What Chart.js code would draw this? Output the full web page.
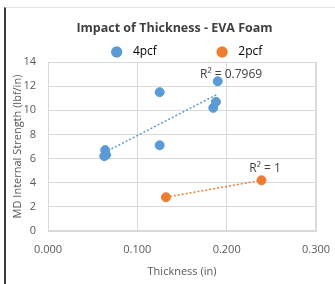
<!DOCTYPE html>
<html>
<head>
<meta charset="utf-8">
<script src="https://cdn.jsdelivr.net/npm/chart.js@4"></script>
<style>
  body { margin: 0; background: #fff; }
  .frame { position: absolute; left: 4px; top: 7px; width: 330px; height: 277px;
           border-left: 2px solid #3a3a3a; border-top: 1px solid #e2e2e2; border-right: 1px solid #eee; }
  #wrap { position: absolute; left: 0; top: 0; width: 335px; height: 284px; }
</style>
</head>
<body>
<div class="frame"></div>
<div id="wrap"><canvas id="grafico" width="335" height="284"></canvas></div>
<script>
// dati
const serie = ['4pcf', '2pcf'];
const colori = ['#5b9bd5', '#ed7d31'];
const spessore4 = [0.063, 0.064, 0.065, 0.125, 0.125, 0.185, 0.188, 0.190];
const forza4 = [6.2, 6.7, 6.3, 11.5, 7.1, 10.2, 10.7, 12.4];
const spessore2 = [0.132, 0.239];
const forza2 = [2.8, 4.2];
const r2Testi = ['R² = 0.7969', 'R² = 1'];
const xTicks = [0, 0.1, 0.2, 0.3];
const yTicks = [0, 2, 4, 6, 8, 10, 12, 14];

// retta di regressione (minimi quadrati)
function trend(xs, ys) {
  const n = xs.length;
  const mx = xs.reduce((a, b) => a + b, 0) / n;
  const my = ys.reduce((a, b) => a + b, 0) / n;
  let sxy = 0, sxx = 0;
  for (let i = 0; i < n; i++) {
    sxy += (xs[i] - mx) * (ys[i] - my);
    sxx += (xs[i] - mx) * (xs[i] - mx);
  }
  const m = sxy / sxx, q = my - m * mx;
  const x0 = Math.min(...xs), x1 = Math.max(...xs);
  return [{ x: x0, y: m * x0 + q }, { x: x1, y: m * x1 + q }];
}

const punti = (xs, ys) => xs.map((x, i) => ({ x: x, y: ys[i] }));
const font = '"Open Sans", sans-serif';

// etichette R² vicino alla fine di ogni linea
const etichetteR2 = {
  id: 'etichetteR2',
  afterDatasetsDraw(chart) {
    const ctx = chart.ctx, xs = chart.scales.x, ys = chart.scales.y;
    ctx.save();
    ctx.font = '12px ' + font;
    ctx.fillStyle = '#404040';
    ctx.textAlign = 'center';
    ctx.textBaseline = 'middle';
    ctx.fillText(r2Testi[0], xs.getPixelForValue(0.205), ys.getPixelForValue(12.95));
    ctx.fillText(r2Testi[1], xs.getPixelForValue(0.243), ys.getPixelForValue(5.2));
    ctx.restore();
  }
};

// titolo e legenda spostati come nell'originale
const sposta = {
  id: 'sposta',
  afterLayout(chart) {
    chart.titleBlock.left += 11;
    chart.titleBlock.right += 11;
    chart.legend.left += 24;
    chart.legend.right += 24;
    chart.legend.top += 6;
    chart.legend.bottom += 6;
  }
};

const grafico = new Chart('grafico', {
  type: 'scatter',
  data: {
    datasets: [
      { label: serie[0], data: punti(spessore4, forza4), backgroundColor: colori[0], borderColor: colori[0], pointRadius: 4.5, pointHoverRadius: 4.5 },
      { label: serie[1], data: punti(spessore2, forza2), backgroundColor: colori[1], borderColor: colori[1], pointRadius: 4.5, pointHoverRadius: 4.5 },
      { label: 'trend4', data: trend(spessore4, forza4), type: 'line', showLine: true, borderColor: colori[0], borderWidth: 1.5, borderDash: [2, 2], pointRadius: 0, fill: false },
      { label: 'trend2', data: trend(spessore2, forza2), type: 'line', showLine: true, borderColor: colori[1], borderWidth: 1.5, borderDash: [2, 2], pointRadius: 0, fill: false }
    ]
  },
  options: {
    responsive: false,
    animation: false,
    layout: { padding: { left: 11, right: 19, top: 21, bottom: 6 } },
    plugins: {
      title: {
        display: true,
        text: 'Impact of Thickness - EVA Foam',
        color: '#404040',
        font: { family: font, size: 12.5, weight: 'bold' },
        padding: { top: 0, bottom: 2 }
      },
      legend: {
        labels: {
          usePointStyle: true,
          boxWidth: 8,
          boxHeight: 8,
          padding: 2,
          color: '#404040',
          font: { family: font, size: 12 },
          // spazi per distanziare le voci come nell'originale
          generateLabels: chart => serie.map((s, i) => ({
            text: '  ' + s + (i === 0 ? '                   ' : ''),
            fillStyle: colori[i], strokeStyle: colori[i], pointStyle: 'circle', lineWidth: 0, datasetIndex: i
          }))
        }
      },
      tooltip: { enabled: false }
    },
    scales: {
      x: {
        type: 'linear', min: 0, max: 0.3,
        afterBuildTicks: s => { s.ticks = xTicks.map(v => ({ value: v })); },
        afterFit: s => { s.height = 47; s.paddingLeft = 0; s.paddingRight = 0; },
        ticks: { color: '#595959', font: { family: font, size: 11 }, callback: v => v.toFixed(3), padding: 12, autoSkip: false, maxRotation: 0 },
        grid: { color: '#d9d9d9', drawTicks: false },
        border: { color: '#d9d9d9' },
        title: { display: true, text: 'Thickness (in)', color: '#595959', font: { family: font, size: 11 }, padding: { top: 2, bottom: 0 } }
      },
      y: {
        type: 'linear', min: 0, max: 14,
        afterBuildTicks: s => { s.ticks = yTicks.map(v => ({ value: v })); },
        afterFit: s => { s.width = 37; },
        ticks: { color: '#595959', font: { family: font, size: 11 }, padding: 12, autoSkip: false },
        grid: { color: '#d9d9d9', drawTicks: false },
        border: { color: '#d9d9d9' },
        title: { display: true, text: 'MD Internal Strength (lbf/in)', color: '#595959', font: { family: font, size: 11 }, padding: { top: 0, bottom: 2 } }
      }
    }
  },
  plugins: [etichetteR2, sposta, {
    id: 'bordoArea',
    afterDraw(chart) {
      const a = chart.chartArea, ctx = chart.ctx;
      ctx.save();
      ctx.strokeStyle = '#d9d9d9';
      ctx.lineWidth = 1;
      ctx.strokeRect(a.left + 0.5, a.top + 0.5, a.right - a.left - 1, a.bottom - a.top - 1);
      ctx.restore();
    }
  }]
});
</script>
</body>
</html>
